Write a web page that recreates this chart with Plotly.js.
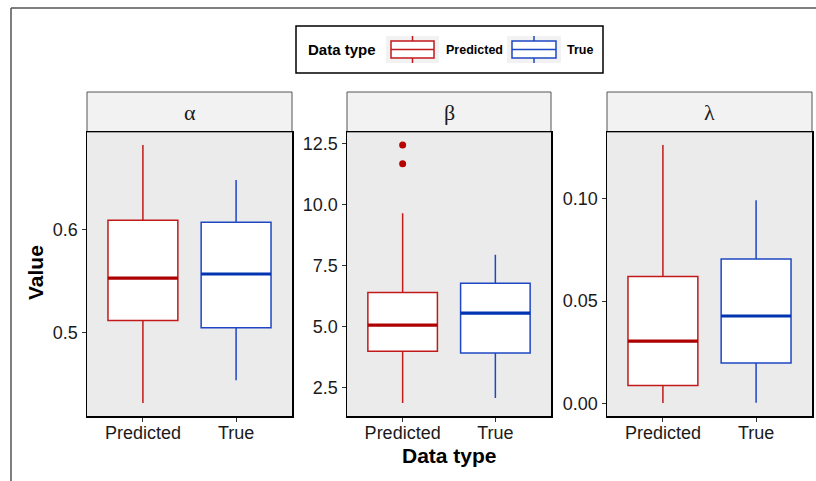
<!DOCTYPE html>
<html>
<head>
<meta charset="utf-8">
<script src="https://cdn.plot.ly/plotly-3.0.1.min.js"></script>
<style>html,body{margin:0;padding:0;background:#fff;}#chart{width:816px;height:481px;}</style>
</head>
<body>
<div id="chart"></div>
<script>
// ---- data ----
const categories = ['Predicted', 'True'];
const panels = ['α', 'β', 'λ'];
// five-number summaries per panel: [Predicted, True]
const alphaLower  = [0.432, 0.454];
const alphaQ1     = [0.512, 0.505];
const alphaMedian = [0.553, 0.557];
const alphaQ3     = [0.609, 0.607];
const alphaUpper  = [0.682, 0.648];

const betaLower  = [1.88, 2.09];
const betaQ1     = [4.00, 3.93];
const betaMedian = [5.07, 5.56];
const betaQ3     = [6.41, 6.79];
const betaUpper  = [9.65, 7.95];
const betaOutliersPredicted = [12.45, 11.68];

const lambdaLower  = [0.0003, 0.0005];
const lambdaQ1     = [0.0089, 0.0198];
const lambdaMedian = [0.0305, 0.0427];
const lambdaQ3     = [0.0619, 0.0705];
const lambdaUpper  = [0.126, 0.099];

const yTickFormats = ['.1f', '.1f', '.2f'];
const yDticks = [0.1, 2.5, 0.05];

// ---- styling ----
const W = 816, H = 481;
const px = x => x / W;
const py = y => 1 - y / H;
const lineColors = ['#C21A1A', '#1F47C4'];
const medColors = ['#AE0000', '#0034B0'];
const font = 'Liberation Sans, Arial, sans-serif';
const panelX = [[87, 292], [347, 551], [607, 812]];
const panelY = [132, 416];
const stripTop = 92;

const summaries = [
  {lo: alphaLower, q1: alphaQ1, med: alphaMedian, q3: alphaQ3, hi: alphaUpper, out: []},
  {lo: betaLower, q1: betaQ1, med: betaMedian, q3: betaQ3, hi: betaUpper, out: betaOutliersPredicted},
  {lo: lambdaLower, q1: lambdaQ1, med: lambdaMedian, q3: lambdaQ3, hi: lambdaUpper, out: []}
];

const traces = [];
const layout = {
  width: W, height: H,
  margin: {l: 0, r: 0, t: 0, b: 0},
  paper_bgcolor: '#ffffff',
  plot_bgcolor: '#EBEBEB',
  showlegend: false,
  boxmode: 'overlay',
  hovermode: false,
  shapes: [], annotations: []
};

summaries.forEach((s, p) => {
  const xa = p === 0 ? 'x' : 'x' + (p + 1);
  const ya = p === 0 ? 'y' : 'y' + (p + 1);
  categories.forEach((c, i) => {
    traces.push({
      type: 'box', x: [c], xaxis: xa, yaxis: ya,
      q1: [s.q1[i]], median: [s.med[i]], q3: [s.q3[i]],
      lowerfence: [s.lo[i]], upperfence: [s.hi[i]],
      width: 0.75, whiskerwidth: 0, boxpoints: false,
      fillcolor: '#ffffff', line: {color: lineColors[i], width: 1.5}
    });
    // thicker median bar
    traces.push({
      type: 'box', x: [c], xaxis: xa, yaxis: ya,
      q1: [s.med[i]], median: [s.med[i]], q3: [s.med[i]],
      lowerfence: [s.med[i]], upperfence: [s.med[i]],
      width: 0.75, whiskerwidth: 0, boxpoints: false,
      fillcolor: 'rgba(0,0,0,0)', line: {color: medColors[i], width: 3.2}
    });
  });
  if (s.out.length) {
    traces.push({
      type: 'scatter', mode: 'markers', xaxis: xa, yaxis: ya,
      x: s.out.map(() => categories[0]), y: s.out,
      marker: {color: '#B80000', size: 7}
    });
  }
  const all = s.lo.concat(s.hi, s.out);
  const mn = Math.min(...all), mx = Math.max(...all), sp = mx - mn;
  const xkey = p === 0 ? 'xaxis' : 'xaxis' + (p + 1);
  const ykey = p === 0 ? 'yaxis' : 'yaxis' + (p + 1);
  layout[xkey] = {
    domain: [px(panelX[p][0]), px(panelX[p][1])],
    anchor: ya, type: 'category', categoryorder: 'array', categoryarray: categories,
    range: [-0.6, 1.6], showgrid: false, zeroline: false,
    showline: true, mirror: true, linecolor: '#000', linewidth: 1.5,
    ticks: 'outside', ticklen: 4, tickcolor: '#333', tickwidth: 1,
    ticklabelstandoff: -4,
    tickfont: {family: font, size: 18, color: '#1a1a1a'}
  };
  layout[ykey] = {
    domain: [py(panelY[1]), py(panelY[0])],
    anchor: xa, range: [mn - 0.05 * sp, mx + 0.05 * sp],
    dtick: yDticks[p], tick0: 0, tickformat: yTickFormats[p],
    showgrid: false, zeroline: false,
    showline: true, mirror: true, linecolor: '#000', linewidth: 1.5,
    ticks: 'outside', ticklen: 4, tickcolor: '#333', tickwidth: 1,
    tickfont: {family: font, size: 18, color: '#1a1a1a'}
  };
  // strip
  layout.shapes.push({
    type: 'rect', xref: 'paper', yref: 'paper',
    x0: px(panelX[p][0]), x1: px(panelX[p][1]), y0: py(panelY[0]), y1: py(stripTop),
    fillcolor: '#F2F2F2', line: {color: '#555', width: 1}, layer: 'below'
  });
  layout.annotations.push({
    xref: 'paper', yref: 'paper', x: px((panelX[p][0] + panelX[p][1]) / 2), y: py((stripTop + panelY[0]) / 2),
    text: panels[p], showarrow: false, xanchor: 'center', yanchor: 'middle',
    font: {family: 'Liberation Serif, Times New Roman, serif', size: 22, color: '#1a1a1a'}
  });
});

// axis titles
layout.annotations.push({
  xref: 'paper', yref: 'paper', x: px(35), y: py(273), text: '<b>Value</b>', textangle: -90,
  showarrow: false, xanchor: 'center', yanchor: 'middle', font: {family: font, size: 21, color: '#000'}
});
layout.annotations.push({
  xref: 'paper', yref: 'paper', x: px(449), y: py(455), text: '<b>Data type</b>',
  showarrow: false, xanchor: 'center', yanchor: 'middle', font: {family: font, size: 21, color: '#000'}
});

// outer frame
layout.shapes.push({type: 'line', xref: 'paper', yref: 'paper', x0: px(11), x1: px(11), y0: 0, y1: py(8), line: {color: '#555', width: 1.5}});
layout.shapes.push({type: 'line', xref: 'paper', yref: 'paper', x0: px(11), x1: 1, y0: py(8), y1: py(8), line: {color: '#555', width: 1.5}});

// legend
layout.shapes.push({type: 'rect', xref: 'paper', yref: 'paper', x0: px(296), x1: px(603), y0: py(73), y1: py(26), line: {color: '#000', width: 1.5}, fillcolor: '#fff'});
layout.annotations.push({xref: 'paper', yref: 'paper', x: px(306), y: py(49.5), text: '<b>Data type</b>', showarrow: false, xanchor: 'left', yanchor: 'middle', font: {family: font, size: 15, color: '#000'}});
const keyX = [[386, 439], [507, 561]];
const keyLabelX = [444, 565];
categories.forEach((c, i) => {
  const [a, b] = keyX[i];
  const m = (a + b) / 2;
  layout.shapes.push({type: 'rect', xref: 'paper', yref: 'paper', x0: px(a), x1: px(b), y0: py(63), y1: py(36), fillcolor: '#F2F2F2', line: {width: 0}});
  layout.shapes.push({type: 'rect', xref: 'paper', yref: 'paper', x0: px(a + 5), x1: px(b - 5), y0: py(58), y1: py(41), fillcolor: '#fff', line: {color: lineColors[i], width: 1.5}});
  layout.shapes.push({type: 'line', xref: 'paper', yref: 'paper', x0: px(a + 5), x1: px(b - 5), y0: py(49.5), y1: py(49.5), line: {color: lineColors[i], width: 1.5}});
  layout.shapes.push({type: 'line', xref: 'paper', yref: 'paper', x0: px(m), x1: px(m), y0: py(41), y1: py(36), line: {color: lineColors[i], width: 1.5}});
  layout.shapes.push({type: 'line', xref: 'paper', yref: 'paper', x0: px(m), x1: px(m), y0: py(63), y1: py(58), line: {color: lineColors[i], width: 1.5}});
  layout.annotations.push({xref: 'paper', yref: 'paper', x: px(keyLabelX[i]), y: py(50), text: '<b>' + c + '</b>', showarrow: false, xanchor: 'left', yanchor: 'middle', font: {family: font, size: 12.5, color: '#000'}});
});

Plotly.newPlot('chart', traces, layout, {staticPlot: true, displayModeBar: false});
</script>
</body>
</html>
